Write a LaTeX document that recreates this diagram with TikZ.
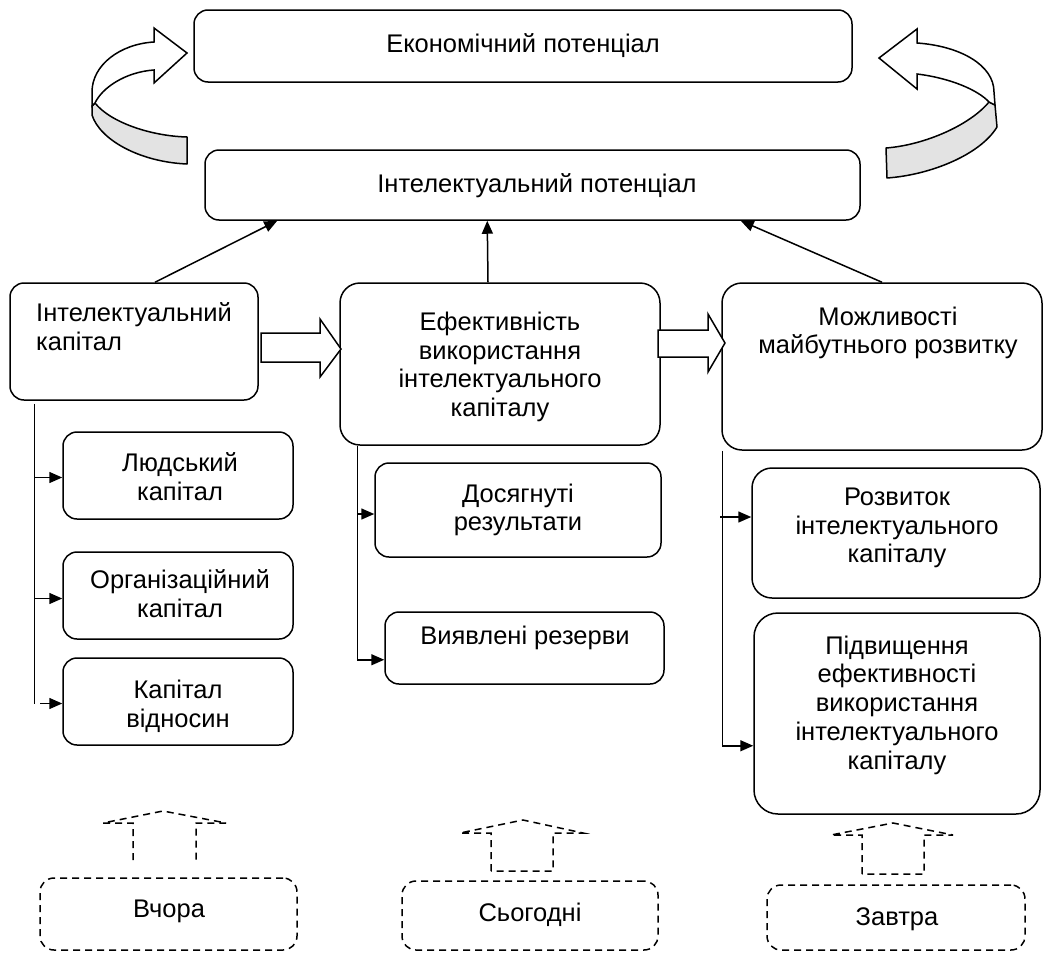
\documentclass[tikz,border=0pt]{standalone}
\usepackage{fontspec}
\setmainfont{Liberation Sans}
\usetikzlibrary{arrows.meta,calc}
\begin{document}
\begin{tikzpicture}[x=1pt,y=-1pt,
  box/.style={draw, line width=1.5pt, rounded corners=14pt, inner sep=0pt, fill=white},
  dbox/.style={box, dash pattern=on 7pt off 5pt},
  txt/.style={inner sep=0pt, align=center, font=\fontsize{25.5}{28.8}\selectfont},
  arr/.style={line width=1.5pt, -{Triangle[length=13pt,width=11pt]}},
  conn/.style={line width=1.5pt},
  blk/.style={draw, line width=1.5pt, fill=white, line join=miter},
  dblk/.style={draw, line width=1.5pt, dash pattern=on 7pt off 5pt},
  band/.style={draw, line width=1.5pt, fill=gray!22, line join=round},
  back/.style={draw, line width=1.5pt, fill=white, line join=miter}]
\useasboundingbox (0,0) rectangle (1044,953);

% curved arrows
\path[band] (95,103) .. controls (110,122) and (150,136) .. (187,137) -- (187,164)
  .. controls (140,162) and (100,140) .. (92,115) -- (92,106) -- cycle;
\path[back] (154,42) -- (154,28) -- (187,53) -- (154,83) -- (154,70)
  .. controls (125,72) and (102,88) .. (95,103) -- (92,106) -- (92,92)
  .. controls (92,65) and (120,44) .. (154,42) -- cycle;
\path[band] (989,102) .. controls (970,125) and (925,145) .. (886,148) -- (887,178)
  .. controls (930,175) and (980,155) .. (997,127) -- (995,105) -- cycle;
\path[back] (917,43) -- (917,29) -- (879,58) -- (917,89) -- (917,74)
  .. controls (950,78) and (978,90) .. (989,102) -- (995,105) -- (994,92)
  .. controls (994,65) and (960,46) .. (917,43) -- cycle;

% top boxes
\node[box, minimum width=658, minimum height=72] (ep) at (523,46) {};
\node[txt] (tep) at (523,46) {Економічний потенціал};
\node[box, minimum width=655, minimum height=70] (ip) at (532.5,185) {};
\node[txt] (tip) at (537,186) {Інтелектуальний потенціал};

% main row
\node[box, minimum width=248, minimum height=117] (ic) at (134,341.5) {};
\node[txt, align=left, anchor=west] (tic) at (36,327) {Інтелектуальний\\капітал};
\node[box, minimum width=320, minimum height=162, rounded corners=20pt] (ef) at (500,364) {};
\node[txt] (tef) at (500,367) {Ефективність\\використання\\інтелектуального\\капіталу};
\node[box, minimum width=320, minimum height=167, rounded corners=20pt] (mo) at (882,366.5) {};
\node[txt] (tmo) at (888,333) {Можливості\\майбутнього розвитку};

% left column
\node[box, minimum width=230, minimum height=87] (lk) at (178,475.5) {};
\node[txt] (tlk) at (180,477) {Людський\\капітал};
\node[box, minimum width=230, minimum height=87] (ok) at (178,595.5) {};
\node[txt] (tok) at (180,594) {Організаційний\\капітал};
\node[box, minimum width=230, minimum height=87] (kv) at (178,701.5) {};
\node[txt] (tkv) at (178,706) {Капітал\\відносин};

% middle column
\node[box, minimum width=286, minimum height=94] (dr) at (518,510) {};
\node[txt] (tdr) at (518,510) {Досягнуті\\результати};
\node[box, minimum width=279, minimum height=72] (vr) at (524.5,648) {};
\node[txt] (tvr) at (525,638) {Виявлені резерви};

% right column
\node[box, minimum width=288, minimum height=130, rounded corners=20pt] (rk) at (896,533) {};
\node[txt] (trk) at (897,528) {Розвиток\\інтелектуального\\капіталу};
\node[box, minimum width=286, minimum height=201, rounded corners=24pt] (pe) at (897,713.5) {};
\node[txt] (tpe) at (897,705) {Підвищення\\ефективності\\використання\\інтелектуального\\капіталу};

% bottom dashed boxes
\node[dbox, minimum width=257, minimum height=72] (vc) at (168.5,914) {};
\node[txt] (tvc) at (169,911) {Вчора};
\node[dbox, minimum width=256, minimum height=69] (sg) at (530,915.5) {};
\node[txt] (tsg) at (530,915) {Сьогодні};
\node[dbox, minimum width=258, minimum height=65] (zv) at (896,917.5) {};
\node[txt] (tzv) at (897,919) {Завтра};

% arrows to intellectual potential
\draw[arr] ($(ic.north)+(21,0)$) -- ($(ip.south west)+(73,0)$);
\draw[arr] ($(ef.north)+(-12,0)$) -- ($(ip.south west)+(283,0)$);
\draw[arr] (mo.north) -- ($(ip.south east)+(-120,0)$);

% block arrows
\path[blk] (261,333) -- (320,333) -- (320,319) -- (341,349) -- (320,377) -- (320,362) -- (261,362) -- cycle;
\path[blk] (658,330) -- (708,330) -- (708,314) -- (725,343) -- (708,372) -- (708,357) -- (658,357) -- cycle;

% left column connectors
\coordinate (la) at ($(ic.south west)+(25,3)$);
\coordinate (lb) at ($(ic.south west)+(25,303)$);
\draw[conn] (la) -- (lb);
\draw[arr] ($(la |- lk.west)+(1,2)$) -- ($(lk.west)+(0,2)$);
\draw[arr] ($(la |- ok.west)+(0,3)$) -- ($(ok.west)+(0,3)$);
\draw[arr] ($(la |- kv.west)+(6,2)$) -- ($(kv.west)+(0,2)$);

% middle column connectors
\coordinate (ma) at ($(ef.south west)+(18,0)$);
\coordinate (mb) at ($(ef.south west)+(18,214)$);
\draw[conn] (ma) -- (mb);
\draw[arr] ($(ma |- dr.west)+(0,4)$) -- ($(dr.west)+(0,4)$);
\draw[arr] (mb) -- (mb -| vr.west);

% right column connectors
\coordinate (ra) at ($(mo.south west)+(1,0)$);
\coordinate (rb) at ($(mo.south west)+(1,295)$);
\draw[conn] (ra) -- (rb);
\draw[arr] ($(ra |- rk.west)+(-2,-16)$) -- ($(rk.west)+(0,-16)$);
\draw[arr] (rb) -- (rb -| pe.west);

% dashed up arrows
\path[dblk] (133,860) -- (133,823) -- (103,823) -- (163,811) -- (226,823) -- (196,823) -- (196,860);
\path[dblk] (491,871) -- (491,833) -- (460,833) -- (523,820) -- (583,833) -- (553,833) -- (553,871) -- cycle;
\path[dblk] (862,874) -- (862,835) -- (831,835) -- (893,823) -- (953,835) -- (924,835) -- (924,874) -- cycle;
\end{tikzpicture}
\end{document}
